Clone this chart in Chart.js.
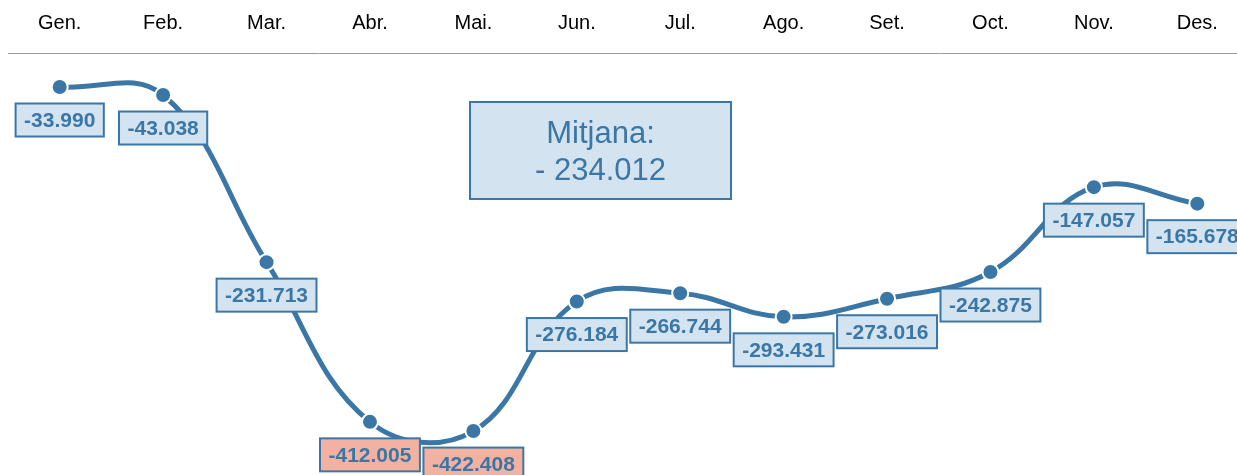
<!DOCTYPE html>
<html><head><meta charset="utf-8">
<script src="https://cdn.jsdelivr.net/npm/chart.js@4/dist/chart.umd.min.js"></script>
<style>
html,body{margin:0;padding:0;overflow:hidden;background:#fff;}
#wrap{position:relative;width:1250px;height:475px;}
</style></head><body>
<div id="wrap"><canvas id="c"></canvas></div>
<script>
const months = ['Gen.','Feb.','Mar.','Abr.','Mai.','Jun.','Jul.','Ago.','Set.','Oct.','Nov.','Des.'];
const values = [-33990,-43038,-231713,-412005,-422408,-276184,-266744,-293431,-273016,-242875,-147057,-165678];
const meanTitle = 'Mitjana:';
const highlightBelow = -400000;

const BLUE = '#3b77a6';
const FILL = '#d4e3f0';
const SALMON = '#f3b2a1';
const FONT = '"Liberation Sans", Arial, Helvetica, sans-serif';

function fmt(v){
  const s = Math.abs(Math.round(v)).toString().replace(/\B(?=(\d{3})+(?!\d))/g,'.');
  return (v<0?'-':'')+s;
}
const mean = values.reduce((a,b)=>a+b,0)/values.length;
const meanText = (mean<0?'- ':'')+fmt(Math.abs(mean));

const labelPlugin = {
  id:'boxLabels',
  afterDatasetsDraw(chart){
    const ctx = chart.ctx;
    const meta = chart.getDatasetMeta(0);
    ctx.save();
    ctx.font = 'bold 21px '+FONT;
    ctx.textAlign='center';
    ctx.textBaseline='middle';
    meta.data.forEach((pt,i)=>{
      const txt = fmt(values[i]);
      const w = ctx.measureText(txt).width + 17;
      const h = 33;
      const cx = pt.x, cy = pt.y + 33;
      ctx.fillStyle = values[i] < highlightBelow ? SALMON : FILL;
      ctx.fillRect(cx-w/2, cy-h/2, w, h);
      ctx.lineWidth = 2;
      ctx.strokeStyle = BLUE;
      ctx.strokeRect(cx-w/2, cy-h/2, w, h);
      ctx.fillStyle = BLUE;
      ctx.fillText(txt, cx, cy+1);
    });
    // mean box
    const bx=470, by=102, bw=261, bh=97;
    ctx.fillStyle = FILL;
    ctx.fillRect(bx,by,bw,bh);
    ctx.lineWidth=2;
    ctx.strokeStyle=BLUE;
    ctx.strokeRect(bx,by,bw,bh);
    ctx.fillStyle=BLUE;
    ctx.font = '31px '+FONT;
    ctx.fillText(meanTitle, bx+bw/2, 134);
    ctx.fillText(meanText, bx+bw/2, 171);
    ctx.restore();
  }
};

new Chart(document.getElementById('c'),{
  type:'line',
  data:{
    labels: months,
    datasets:[{
      data: values,
      borderColor: BLUE,
      borderWidth: 5,
      tension: 0.4,
      fill:false,
      clip:false,
      pointRadius: 8,
      pointHoverRadius: 8,
      pointBackgroundColor: BLUE,
      pointBorderColor: '#ffffff',
      pointBorderWidth: 2
    }]
  },
  options:{
    responsive:true,
    maintainAspectRatio:false,
    animation:false,
    devicePixelRatio:1,
    layout:{autoPadding:false,padding:{left:8,right:1,top:0,bottom:0}},
    plugins:{legend:{display:false},tooltip:{enabled:false}},
    scales:{
      x:{
        position:'top',
        offset:true,
        grid:{display:false, drawTicks:false},
        border:{display:true,color:'#999999',width:1},
        ticks:{color:'#000000',font:{family:FONT,size:20},padding:18,maxRotation:0,autoSkip:false},
        afterFit(scale){ scale.height = 53; }
      },
      y:{
        display:false,
        min:-472000,
        max:4400
      }
    }
  },
  plugins:[labelPlugin]
});
</script>
</body></html>
